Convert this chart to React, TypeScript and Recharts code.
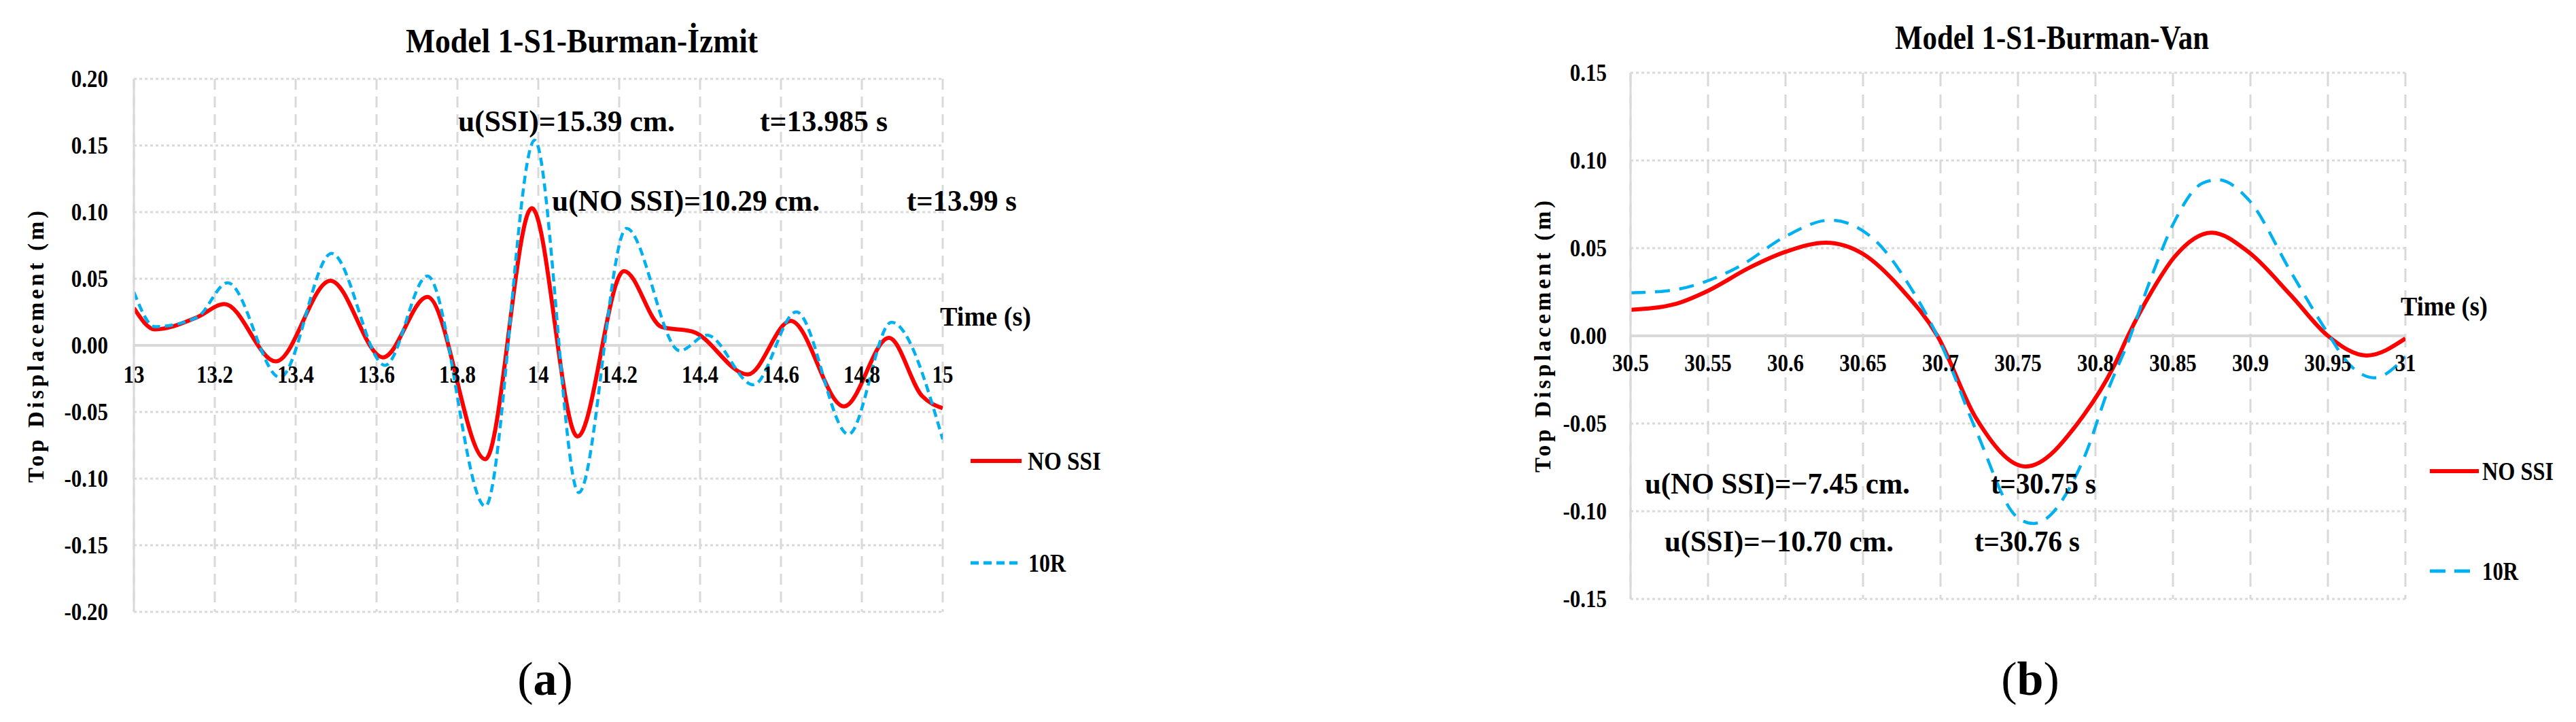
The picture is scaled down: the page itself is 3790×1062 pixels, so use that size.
import React from 'react';
import { LineChart, Line, XAxis, YAxis, CartesianGrid, ReferenceLine } from 'recharts';

const FONT = '"Liberation Serif", "Times New Roman", Times, serif';
const RED = '#ff0000';
const CYAN = '#00b0f0';
const GRID = '#d9d9d9';

// ---------- (a) Model 1-S1-Burman-İzmit ----------
const izmitXTicks = [13, 13.2, 13.4, 13.6, 13.8, 14, 14.2, 14.4, 14.6, 14.8, 15];
const izmitYTicks = [-0.2, -0.15, -0.1, -0.05, 0, 0.05, 0.1, 0.15, 0.2];
const izmitNoSsiTime = [13.0, 13.052, 13.156, 13.224, 13.351, 13.486, 13.616, 13.726, 13.869, 13.984, 14.097, 14.212, 14.305, 14.383, 14.518, 14.624, 14.756, 14.867, 14.949, 15.0];
const izmitNoSsiDisp = [0.028, 0.012, 0.021, 0.031, -0.012, 0.0485, -0.009, 0.0364, -0.0854, 0.1029, -0.0684, 0.0558, 0.0138, 0.0102, -0.0218, 0.0184, -0.0458, 0.0056, -0.038, -0.0472];
const izmit10rTime = [13.0, 13.052, 13.156, 13.232, 13.361, 13.489, 13.621, 13.726, 13.869, 13.991, 14.1, 14.218, 14.35, 14.417, 14.532, 14.638, 14.767, 14.873, 15.0];
const izmit10rDisp = [0.04, 0.014, 0.021, 0.047, -0.024, 0.069, -0.015, 0.052, -0.1207, 0.1539, -0.1105, 0.0877, -0.004, 0.0077, -0.0296, 0.0251, -0.0667, 0.0173, -0.0705];

// ---------- (b) Model 1-S1-Burman-Van ----------
const vanXTicks = [30.5, 30.55, 30.6, 30.65, 30.7, 30.75, 30.8, 30.85, 30.9, 30.95, 31];
const vanYTicks = [-0.15, -0.1, -0.05, 0, 0.05, 0.1, 0.15];
const vanNoSsiTime = [30.5, 30.529, 30.55, 30.577, 30.6, 30.626, 30.65, 30.675, 30.698, 30.723, 30.755, 30.792, 30.812, 30.821, 30.836, 30.851, 30.875, 30.899, 30.926, 30.95, 30.975, 31.0];
const vanNoSsiDisp = [0.0148, 0.0182, 0.0257, 0.039, 0.0479, 0.0531, 0.0467, 0.0265, 0.0, -0.047, -0.0745, -0.0457, -0.0171, 0.0, 0.0249, 0.045, 0.0588, 0.0476, 0.0232, 0.0, -0.0112, -0.0015];
const van10rTime = [30.5, 30.524, 30.545, 30.571, 30.6, 30.629, 30.658, 30.679, 30.699, 30.723, 30.749, 30.76, 30.792, 30.809, 30.821, 30.836, 30.851, 30.869, 30.879, 30.899, 30.926, 30.95, 30.963, 30.98, 31.0];
const van10rDisp = [0.0245, 0.0257, 0.0299, 0.04, 0.0567, 0.066, 0.0543, 0.0299, -0.002, -0.054, -0.103, -0.107, -0.0709, -0.0289, -0.0037, 0.0333, 0.0652, 0.087, 0.089, 0.0774, 0.0366, 0.0014, -0.0155, -0.0239, -0.012];

const seriesNames = ['NO SSI', '10R'];

const toRows = (t: number[], u: number[]) => t.map((v, i) => ({ t: v, u: u[i] }));
const fmtX = (v: number) => String(Number(v.toFixed(3)));
const fmtY = (v: number) => v.toFixed(2);

const TICK_SIZE = 36;
const TICK_SX = 0.86;

type PanelProps = {
  left: number;
  width: number;
  plotLeft: number;
  plotRight: number;
  plotTop: number;
  plotBottom: number;
  xDomain: [number, number];
  xTicks: number[];
  yDomain: [number, number];
  yTicks: number[];
  noSsi: { t: number; u: number }[];
  r10: { t: number; u: number }[];
  dash: string;
  vDash: string;
  labelOffset: number;
  yTickGap: number;
};

const H = 1062;

function Panel(p: PanelProps) {
  const yAxisW = 60;
  const xAxisH = 30;
  const zeroY = p.plotTop + (p.yDomain[1] / (p.yDomain[1] - p.yDomain[0])) * (p.plotBottom - p.plotTop);
  const XTick = (props: any) => (
    <g transform={`translate(${props.x} ${zeroY + p.labelOffset}) scale(${TICK_SX} 1)`}>
      <text x={0} y={0} textAnchor="middle" dominantBaseline="central" fontFamily={FONT} fontWeight="bold" fontSize={TICK_SIZE} fill="#000">
        {fmtX(props.payload.value)}
      </text>
    </g>
  );
  const YTick = (props: any) => (
    <g transform={`translate(${props.x} ${props.y}) scale(${TICK_SX} 1)`}>
      <text x={0} y={0} textAnchor="end" dominantBaseline="central" fontFamily={FONT} fontWeight="bold" fontSize={TICK_SIZE} fill="#000">
        {fmtY(props.payload.value)}
      </text>
    </g>
  );
  return (
    <div style={{ position: 'absolute', left: p.left, top: 0 }}>
      <LineChart
        width={p.width}
        height={H}
        margin={{
          top: p.plotTop,
          bottom: H - p.plotBottom - xAxisH,
          left: p.plotLeft - p.left - yAxisW,
          right: p.left + p.width - p.plotRight,
        }}
      >
        <CartesianGrid vertical={false} stroke={GRID} strokeWidth={3} strokeDasharray="4 4" />
        <CartesianGrid horizontal={false} stroke={GRID} strokeWidth={3} strokeDasharray={p.vDash} />
        <XAxis
          type="number"
          dataKey="t"
          domain={p.xDomain}
          ticks={p.xTicks}
          interval={0}
          axisLine={false}
          tickLine={false}
          height={xAxisH}
          tick={XTick}
          allowDataOverflow
        />
        <YAxis
          type="number"
          domain={p.yDomain}
          ticks={p.yTicks}
          interval={0}
          width={yAxisW}
          axisLine={{ stroke: GRID, strokeWidth: 3 }}
          tickLine={false}
          tickSize={0}
          tickMargin={p.yTickGap}
          tick={YTick}
          allowDataOverflow
        />
        <ReferenceLine y={0} stroke={GRID} strokeWidth={4} />
        <Line
          data={p.noSsi}
          dataKey="u"
          name={seriesNames[0]}
          type="monotone"
          stroke={RED}
          strokeWidth={6}
          dot={false}
          activeDot={false}
          isAnimationActive={false}
        />
        <Line
          data={p.r10}
          dataKey="u"
          name={seriesNames[1]}
          type="monotone"
          stroke={CYAN}
          strokeWidth={4.5}
          strokeDasharray={p.dash}
          dot={false}
          activeDot={false}
          isAnimationActive={false}
        />
      </LineChart>
    </div>
  );
}

// text fitted to a measured width (bold serif, slightly condensed like the source)
const FT = ({ x, y, w, size, anchor = 'start', bold = true, children, ...rest }: any) => (
  <text
    x={x}
    y={y}
    fontFamily={FONT}
    fontWeight={bold ? 'bold' : 'normal'}
    fontSize={size}
    fill="#000"
    dominantBaseline="central"
    textAnchor={anchor}
    textLength={w}
    lengthAdjust="spacingAndGlyphs"
    {...rest}
  >
    {children}
  </text>
);

const YLabel = ({ cx, cy }: { cx: number; cy: number }) => (
  <text
    x={cx}
    y={cy}
    fontFamily={FONT}
    fontWeight="bold"
    fontSize={33}
    fill="#000"
    dominantBaseline="central"
    textAnchor="middle"
    textLength={400}
    lengthAdjust="spacing"
    transform={`rotate(-90 ${cx} ${cy})`}
  >
    Top Displacement (m)
  </text>
);

export default function App() {
  return (
    <div style={{ position: 'absolute', left: 0, top: 0, width: 3790, height: 1062, background: '#fff', overflow: 'hidden' }}>
      <Panel
        left={0}
        width={1700}
        plotLeft={197}
        plotRight={1387}
        plotTop={116}
        plotBottom={900}
        xDomain={[13, 15]}
        xTicks={izmitXTicks}
        yDomain={[-0.2, 0.2]}
        yTicks={izmitYTicks}
        noSsi={toRows(izmitNoSsiTime, izmitNoSsiDisp)}
        r10={toRows(izmit10rTime, izmit10rDisp)}
        dash="12 7"
        vDash="16 10"
        labelOffset={43}
        yTickGap={38}
      />
      <Panel
        left={1900}
        width={1890}
        plotLeft={2399}
        plotRight={3539}
        plotTop={107}
        plotBottom={881}
        xDomain={[30.5, 31]}
        xTicks={vanXTicks}
        yDomain={[-0.15, 0.15]}
        yTicks={vanYTicks}
        noSsi={toRows(vanNoSsiTime, vanNoSsiDisp)}
        r10={toRows(van10rTime, van10rDisp)}
        dash="22 14"
        vDash="20 12"
        labelOffset={40}
        yTickGap={35}
      />
      <svg width={3790} height={1062} style={{ position: 'absolute', left: 0, top: 0, pointerEvents: 'none' }}>
        {/* ----- panel (a) ----- */}
        <FT x={856} y={60} w={518} size={50} anchor="middle">Model 1-S1-Burman-İzmit</FT>
        <YLabel cx={53} cy={510} />
        <FT x={1383} y={465} w={134} size={39}>Time (s)</FT>
        <FT x={674} y={178} w={319} size={45}>u(SSI)=15.39 cm.</FT>
        <FT x={1118} y={178} w={188} size={45}>t=13.985 s</FT>
        <FT x={812} y={295} w={394} size={45}>u(NO SSI)=10.29 cm.</FT>
        <FT x={1334} y={295} w={162} size={45}>t=13.99 s</FT>
        <line x1={1428} x2={1503} y1={678} y2={678} stroke={RED} strokeWidth={6} />
        <FT x={1512} y={678} w={108} size={38}>{seriesNames[0]}</FT>
        <line x1={1428} x2={1503} y1={828} y2={828} stroke={CYAN} strokeWidth={5} strokeDasharray="12 7" />
        <FT x={1513} y={828} w={55} size={38}>{seriesNames[1]}</FT>
        <text x={802} y={998} textAnchor="middle" dominantBaseline="central" fontFamily={FONT} fontSize={70} fill="#000">
          (<tspan fontWeight="bold">a</tspan>)
        </text>

        {/* ----- panel (b) ----- */}
        <FT x={3019} y={55} w={462} size={50} anchor="middle">Model 1-S1-Burman-Van</FT>
        <YLabel cx={2270} cy={495} />
        <FT x={3532} y={450} w={128} size={39}>Time (s)</FT>
        <FT x={2420} y={711} w={390} size={45}>u(NO SSI)=−7.45 cm.</FT>
        <FT x={2929} y={711} w={155} size={45}>t=30.75 s</FT>
        <FT x={2449} y={796} w={337} size={45}>u(SSI)=−10.70 cm.</FT>
        <FT x={2905} y={796} w={155} size={45}>t=30.76 s</FT>
        <line x1={3575} x2={3647} y1={693} y2={693} stroke={RED} strokeWidth={6} />
        <FT x={3652} y={693} w={105} size={38}>{seriesNames[0]}</FT>
        <line x1={3575} x2={3647} y1={840} y2={840} stroke={CYAN} strokeWidth={5} strokeDasharray="23 13" />
        <FT x={3652} y={840} w={53} size={38}>{seriesNames[1]}</FT>
        <text x={2987} y={998} textAnchor="middle" dominantBaseline="central" fontFamily={FONT} fontSize={70} fill="#000">
          (<tspan fontWeight="bold">b</tspan>)
        </text>
      </svg>
    </div>
  );
}
